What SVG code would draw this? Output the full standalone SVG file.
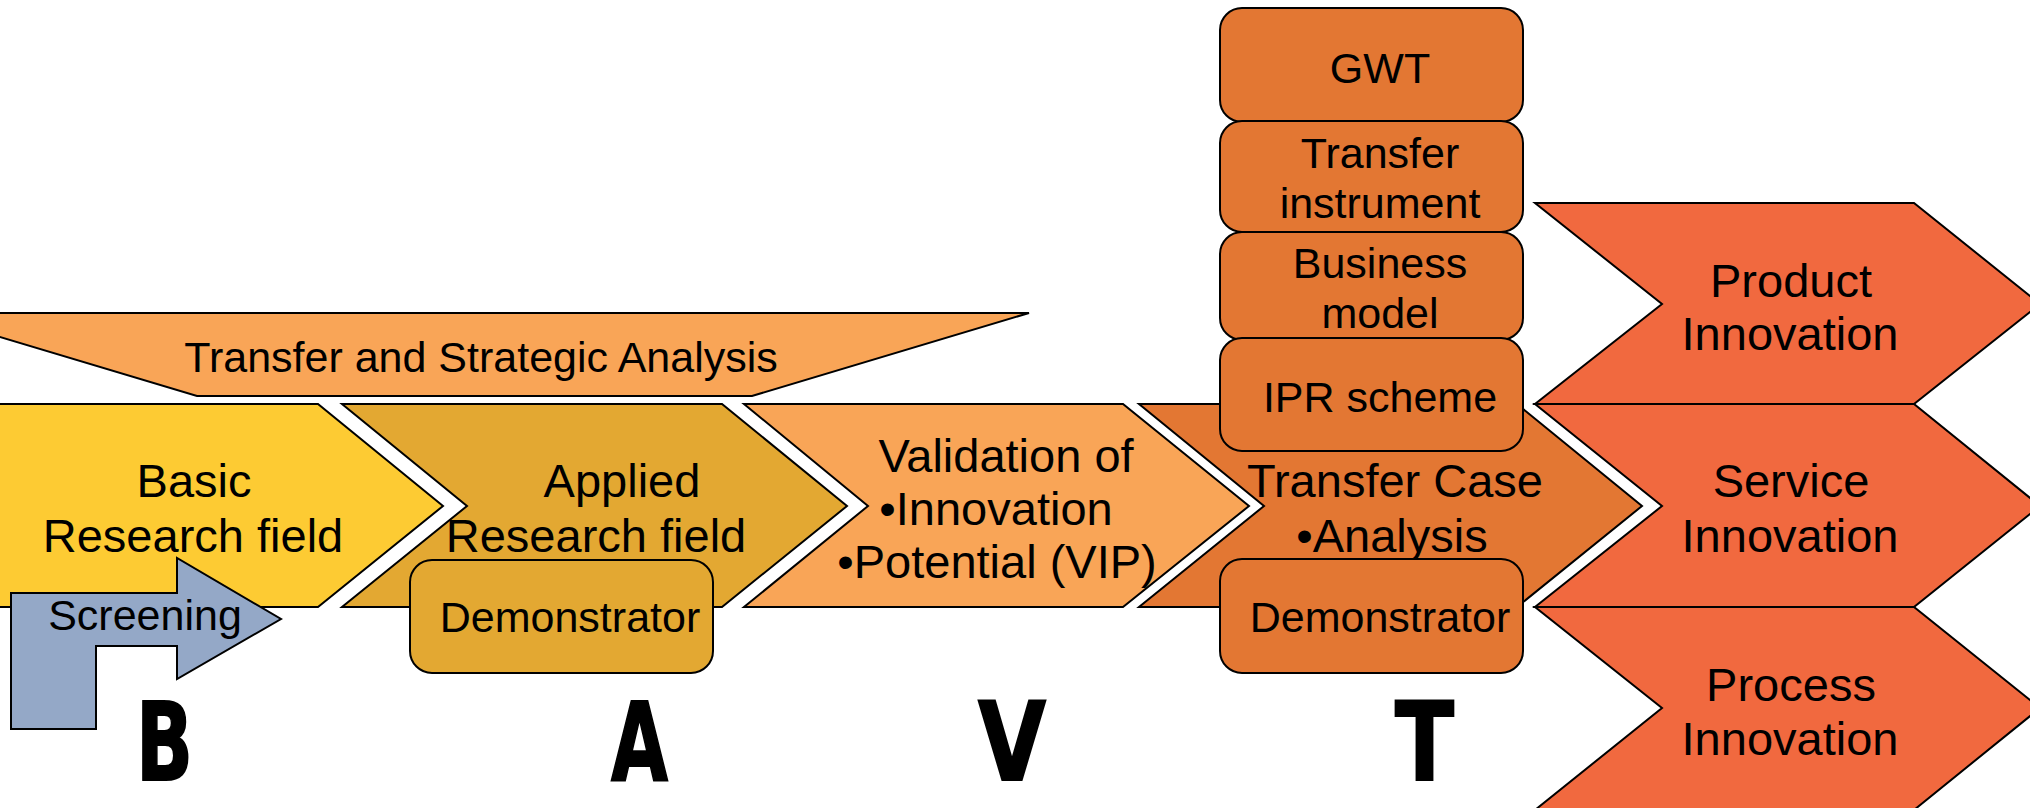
<svg xmlns="http://www.w3.org/2000/svg" width="2030" height="808" viewBox="0 0 2030 808">
<style>
.sh{stroke:#000;stroke-width:2;stroke-linejoin:miter}
.t{font-family:"Liberation Sans",Arial,sans-serif;fill:#000;text-anchor:middle}
.l{font-size:47px}
.s{font-size:43px}
.big{font-family:"DejaVu Sans","Liberation Sans",sans-serif;font-weight:bold;font-size:108px;fill:#000;stroke:#000;stroke-width:2;text-anchor:start}
.basic{fill:#FDCB33}
.applied{fill:#E3A832}
.valid{fill:#F9A557}
.tcase{fill:#E37733}
.innov{fill:#F1693F}
.scr{fill:#94A8C7}
</style>
<rect width="2030" height="808" fill="#fff"/>
<g id="banner">
<polygon class="sh valid" points="-80,313 1029,313 752,396 197,396"/>
<text class="t s" x="481" y="372">Transfer and Strategic Analysis</text>
</g>
<g id="basic">
<polygon class="sh basic" points="-5,404 318,404 443,506 318,607 -5,607"/>
<text class="t l" x="194" y="497">Basic</text>
<text class="t l" x="193" y="552">Research field</text>
</g>
<g id="applied">
<polygon class="sh applied" points="342,404 722,404 847,506 722,607 342,607 467,506"/>
<text class="t l" x="622" y="497">Applied</text>
<text class="t l" x="596" y="552">Research field</text>
</g>
<g id="validation">
<polygon class="sh valid" points="744,404 1123,404 1249,506 1123,607 744,607 868,506"/>
<text class="t l" x="1006" y="472">Validation of</text>
<text class="t l" x="996" y="525">•Innovation</text>
<text class="t l" x="997" y="578">•Potential (VIP)</text>
</g>
<g id="transfer-case">
<polygon class="sh tcase" points="1139,404 1517,404 1642,506 1517,607 1139,607 1264,506"/>
<text class="t l" x="1395" y="497">Transfer Case</text>
<text class="t l" x="1392" y="552">•Analysis</text>
</g>
<g id="product">
<polygon class="sh innov" points="1535,203 1914,203 2040,304 1914,404 1535,404 1662,304"/>
<text class="t l" x="1791" y="297">Product</text>
<text class="t l" x="1790" y="350">Innovation</text>
</g>
<g id="service">
<polygon class="sh innov" points="1535,404 1914,404 2040,506 1914,607 1535,607 1662,506"/>
<text class="t l" x="1791" y="497">Service</text>
<text class="t l" x="1790" y="552">Innovation</text>
</g>
<g id="process">
<polygon class="sh innov" points="1535,607 1914,607 2040,708 1914,810 1535,810 1662,708"/>
<text class="t l" x="1791" y="701">Process</text>
<text class="t l" x="1790" y="755">Innovation</text>
</g>
<g id="screening">
<polygon class="sh scr" points="11,593 177,593 177,558 281,619 177,679 177,646 96,646 96,729 11,729"/>
<text class="t s" x="145" y="630">Screening</text>
</g>
<g id="demo-applied">
<rect class="sh applied" x="410" y="560" width="303" height="113" rx="22"/>
<text class="t s" x="570" y="632">Demonstrator</text>
</g>
<g id="gwt">
<rect class="sh tcase" x="1220" y="8" width="303" height="114" rx="22"/>
<text class="t s" x="1380" y="83">GWT</text>
</g>
<g id="transfer-instrument">
<rect class="sh tcase" x="1220" y="121" width="303" height="111" rx="22"/>
<text class="t s" x="1380" y="168">Transfer</text>
<text class="t s" x="1380" y="218">instrument</text>
</g>
<g id="business-model">
<rect class="sh tcase" x="1220" y="232" width="303" height="108" rx="22"/>
<text class="t s" x="1380" y="278">Business</text>
<text class="t s" x="1380" y="328">model</text>
</g>
<g id="ipr">
<rect class="sh tcase" x="1220" y="338" width="303" height="113" rx="22"/>
<text class="t s" x="1380" y="412">IPR scheme</text>
</g>
<g id="demo-transfer">
<rect class="sh tcase" x="1220" y="559" width="303" height="114" rx="22"/>
<text class="t s" x="1380" y="632">Demonstrator</text>
</g>
<g id="letters">
<text class="big" x="136" y="780" textLength="57" lengthAdjust="spacingAndGlyphs">B</text>
<text class="big" x="611" y="780" textLength="57" lengthAdjust="spacingAndGlyphs">A</text>
<text class="big" x="978" y="780" textLength="68" lengthAdjust="spacingAndGlyphs">V</text>
<text class="big" x="1395" y="780" textLength="59" lengthAdjust="spacingAndGlyphs">T</text>
</g>
<g id="connectors"></g>
</svg>
